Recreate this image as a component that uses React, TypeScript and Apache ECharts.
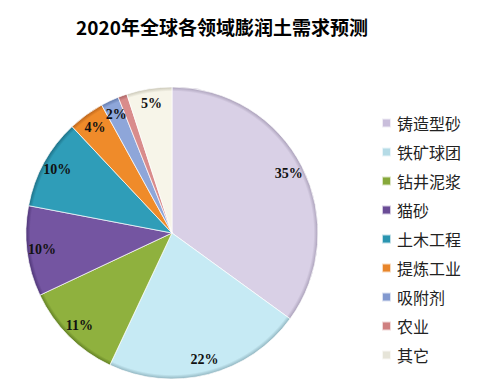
import React, { useEffect, useRef } from "react";
import * as echarts from "echarts";

const categories = ["铸造型砂", "铁矿球团", "钻井泥浆", "猫砂", "土木工程", "提炼工业", "吸附剂", "农业", "其它"];
const values = [35, 22, 11, 10, 10, 4, 2, 1, 5];
const colors = ["#d9d0e6", "#c6eaf4", "#8fb13e", "#7455a1", "#2f9db8", "#ef8b2a", "#8ea6d9", "#d98c8c", "#f7f5e9"];
const edgeColors = ["#a99fb8", "#8fb3be", "#5f7d22", "#4d3476", "#1d6f85", "#b8621a", "#6279aa", "#a86262", "#c8c5b5"];
const legendColors = ["#c9bedb", "#b5dbe6", "#86a83a", "#6a4c96", "#2a95b0", "#e8852a", "#8299cf", "#cf8080", "#e6e4d8"];

const CX = 172;
const CY = 233;
const R = 146;

export default function App() {
  const ref = useRef<HTMLDivElement>(null);
  useEffect(() => {
    if (!ref.current) return;
    const chart = echarts.init(ref.current, undefined, { renderer: "svg" });
    const data = categories.map((name, i) => ({
      name,
      value: values[i],
      itemStyle: {
        color: {
          type: "radial",
          x: CX,
          y: CY,
          r: R,
          global: true,
          colorStops: [
            { offset: 0, color: colors[i] },
            { offset: 0.9, color: colors[i] },
            { offset: 0.97, color: colors[i] },
            { offset: 1, color: edgeColors[i] },
          ],
        },
      },
    }));
    chart.setOption({
      animation: false,
      title: {
        text: "2020年全球各领域膨润土需求预测",
        left: 217,
        textAlign: "center",
        top: 12,
        textStyle: { fontSize: 19, fontWeight: "bold", color: "#000", fontFamily: "Noto Sans CJK SC" },
      },
      legend: {
        orient: "vertical",
        left: 376,
        top: 110,
        icon: "rect",
        itemWidth: 9,
        itemHeight: 9,
        itemGap: 13,
        data: categories.map((name, i) => ({ name, itemStyle: { color: legendColors[i] } })),
        textStyle: { fontSize: 16, lineHeight: 16, color: "#222", fontFamily: "Noto Sans CJK SC", padding: [0, 0, 0, 1] },
      },
      series: [
        {
          type: "pie",
          center: [CX, CY],
          radius: [0, R],
          startAngle: 90,
          clockwise: true,
          data,
          label: { show: false },
          labelLine: { show: false },
          itemStyle: { borderColor: "rgba(255,255,255,0.7)", borderWidth: 1 },
          emphasis: { disabled: true },
        },
        {
          type: "pie",
          center: [CX, CY],
          radius: [110, R],
          startAngle: 90,
          clockwise: true,
          silent: true,
          legendHoverLink: false,
          data: categories.map((name, i) => ({ name, value: values[i] })),
          itemStyle: { color: "rgba(0,0,0,0)" },
          label: {
            show: true,
            position: "inside",
            formatter: "{c}%",
            fontSize: 14,
            fontWeight: "bold",
            color: "#111",
            fontFamily: "Liberation Serif",
          },
          labelLine: { show: false },
          emphasis: { disabled: true },
        },
      ],
    });
    return () => chart.dispose();
  }, []);
  return <div ref={ref} style={{ position: "fixed", left: 0, top: 0, width: 489, height: 390, background: "#fff" }} />;
}
